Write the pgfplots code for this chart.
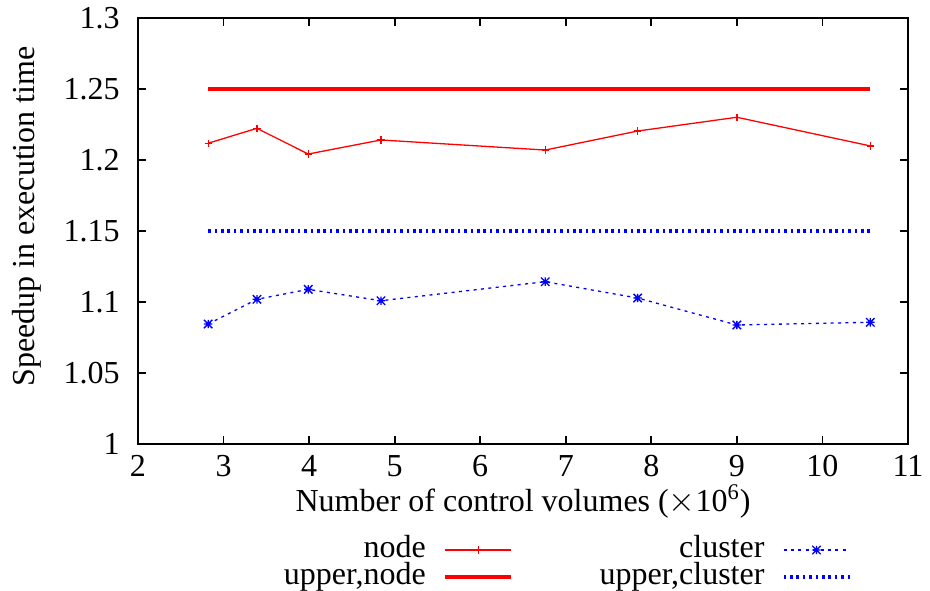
\documentclass[border=0pt]{standalone}
\usepackage{fontspec}
\setmainfont{Liberation Serif}
\usepackage{pgfplots}
\pgfplotsset{compat=1.18}

% gnuplot-style "*" point: a plus and a cross laid over each other
\pgfdeclareplotmark{gpstar}{%
  \pgfpathmoveto{\pgfqpoint{-\pgfplotmarksize}{0pt}}\pgfpathlineto{\pgfqpoint{\pgfplotmarksize}{0pt}}%
  \pgfpathmoveto{\pgfqpoint{0pt}{-\pgfplotmarksize}}\pgfpathlineto{\pgfqpoint{0pt}{\pgfplotmarksize}}%
  \pgfpathmoveto{\pgfqpoint{-\pgfplotmarksize}{-\pgfplotmarksize}}\pgfpathlineto{\pgfqpoint{\pgfplotmarksize}{\pgfplotmarksize}}%
  \pgfpathmoveto{\pgfqpoint{-\pgfplotmarksize}{\pgfplotmarksize}}\pgfpathlineto{\pgfqpoint{\pgfplotmarksize}{-\pgfplotmarksize}}%
  \pgfusepathqstroke}

\newcommand{\chartfont}{\fontsize{16bp}{18bp}\selectfont}

\begin{document}
\begin{tikzpicture}
\begin{axis}[
  scale only axis,
  width=385bp, height=213bp,
  xmin=2, xmax=11, ymin=1, ymax=1.3,
  xtick={2,3,4,5,6,7,8,9,10,11},
  ytick={1,1.05,1.1,1.15,1.2,1.25,1.3},
  /pgf/number format/assume math mode=true,
  yticklabel style={/pgf/number format/fixed, /pgf/number format/precision=2},
  tick align=inside,
  major tick length=4bp,
  axis line style={line width=0.9bp},
  every tick/.style={black, line width=0.9bp},
  every tick label/.append style={font=\chartfont},
  yticklabel style={inner xsep=0pt, xshift=-9bp},
  xticklabel style={inner ysep=0pt, yshift=-5.5bp},
  xlabel={Number of control volumes ($\times$10\textsuperscript{6})},
  ylabel={Speedup in execution time},
  label style={font=\chartfont},
  xlabel style={at={(axis description cs:0.5,-0.1596)}, anchor=base},
  ylabel style={at={(axis description cs:-0.135,0.534)}, anchor=base},
  legend columns=2,
  legend cell align=right,
  legend plot pos=right,
  legend image code/.code={%
    \draw[mark repeat=2,mark phase=2] plot coordinates {(0bp,0bp)(16.5bp,0bp)(33bp,0bp)};},
  legend style={
    draw=none, fill=none, inner sep=0pt, outer sep=0pt,
    font=\chartfont,
    at={(axis description cs:0.1896,-0.2171)}, anchor=north west,
    nodes={inner xsep=0pt, inner ysep=0.1bp, text height=10.4bp, text depth=2.9bp},
    row sep=0pt,
    /tikz/every odd column/.append style={column sep=8.5bp},
    /tikz/every even column/.append style={column sep=43bp},
  },
]
% speedup on a single node
\addplot[red, line width=0.65bp, mark=+, mark size=1.8bp, mark options={solid}]
  coordinates {
    (2.82,1.2118) (3.39,1.2223) (3.99,1.2042) (4.84,1.2141)
    (6.76,1.2070) (7.84,1.2204) (9.00,1.2301) (10.56,1.2099)
  };
\addlegendentry{node}

% speedup on the cluster
\addplot[blue, line width=0.65bp, dash pattern=on 1.5bp off 2.2bp,
         mark=gpstar, mark size=2.1bp, mark options={solid}]
  coordinates {
    (2.82,1.0845) (3.39,1.1019) (3.99,1.1089) (4.84,1.1009)
    (6.76,1.1143) (7.84,1.1028) (9.00,1.0838) (10.56,1.0857)
  };
\addlegendentry{cluster}

% theoretical upper bounds
\addplot[red, line width=2.4bp] coordinates {(2.82,1.25) (10.56,1.25)};
\addlegendentry{upper,node}

\addplot[blue, line width=2.1bp, dash pattern=on 1.3bp off 1.9bp]
  coordinates {(2.82,1.15) (10.56,1.15)};
\addlegendentry{upper,cluster}
\end{axis}
\pgfresetboundingbox
\path[use as bounding box] (-69bp,-73.5bp) rectangle ++(465bp,295.5bp);
\end{tikzpicture}
\end{document}
